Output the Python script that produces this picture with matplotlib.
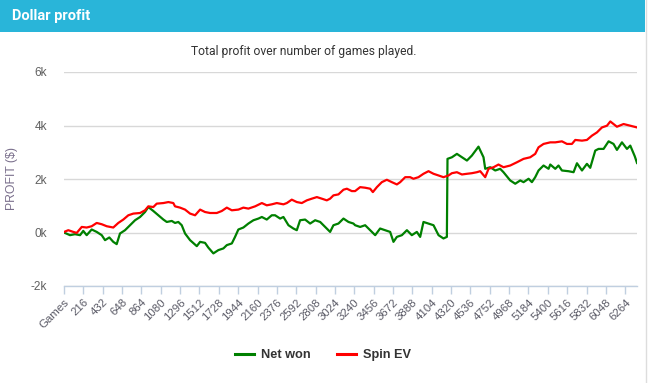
import matplotlib
matplotlib.use("Agg")
import matplotlib.pyplot as plt
from matplotlib.patches import Rectangle
from matplotlib.lines import Line2D

# Values (games played, profit in $)
net_games = [0, 67, 123, 179, 215, 253, 309, 365, 421, 458, 506, 550, 588, 625, 681, 737, 793, 849,
             904, 941, 997, 1053, 1109, 1147, 1203, 1239, 1276, 1314, 1351, 1407, 1482, 1519, 1574,
             1611, 1667, 1723, 1779, 1817, 1873, 1909, 1946, 2002, 2058, 2114, 2170, 2208, 2263,
             2319, 2356, 2412, 2449, 2505, 2560, 2598, 2635, 2691, 2747, 2803, 2859, 2914, 2970,
             3007, 3063, 3119, 3175, 3230, 3249, 3305, 3361, 3417, 3473, 3528, 3584, 3640, 3677,
             3715, 3771, 3827, 3882, 3938, 3975, 4012, 4068, 4124, 4180, 4235, 4273, 4280, 4329,
             4385, 4441, 4497, 4552, 4626, 4682, 4701, 4757, 4813, 4868, 4905, 4980, 5036, 5092,
             5129, 5185, 5222, 5259, 5296, 5352, 5408, 5427, 5483, 5519, 5557, 5631, 5687, 5725,
             5781, 5836, 5873, 5929, 5966, 6022, 6078, 6133, 6171, 6227, 6283, 6320, 6370, 6395]
net_won = [0, -100, -63, -100, 60, -100, 112, 22, -100, -286, -186, -350, -435, -37, 86, 272, 458, 580,
           766, 952, 804, 644, 484, 394, 432, 357, 394, 272, -37, -286, -510, -350, -387,
           -565, -781, -658, -595, -472, -409, -164, 112, 186, 335, 458, 521, 580, 484,
           644, 644, 521, 580, 272, 149, 86, 458, 484, 335, 458, 394, 208, 22,
           272, 335, 521, 394, 335, 272, 208, 272, 86, -100, 149, 86, 22, -350,
           -164, -100, 86, -100, 22, -164, 394, 335, 272, -100, -223, -164, 2753, 2812,
           2939, 2812, 2690, 2876, 3210, 2812, 2381, 2440, 2318, 2381, 2254, 1946, 1823, 1946,
           1882, 2009, 1882, 2068, 2318, 2504, 2381, 2541, 2381, 2504, 2318, 2291, 2254, 2589,
           2318, 2567, 2418, 3062, 3125, 3125, 3408, 3311, 3088, 3370, 3125, 3248, 2850, 2600]

ev_games = [0, 48, 104, 142, 198, 253, 309, 365, 421, 477, 550, 606, 662, 718, 774, 849, 904, 941,
            997, 1035, 1109, 1165, 1220, 1239, 1295, 1351, 1407, 1463, 1519, 1574, 1630, 1705,
            1761, 1817, 1873, 1946, 2002, 2058, 2133, 2208, 2263, 2319, 2375, 2449, 2487, 2542,
            2598, 2654, 2710, 2766, 2822, 2877, 2933, 2970, 3007, 3063, 3119, 3157, 3212, 3249,
            3305, 3361, 3417, 3447, 3492, 3547, 3603, 3659, 3715, 3752, 3808, 3863, 3900, 3956,
            4012, 4068, 4124, 4180, 4235, 4291, 4329, 4385, 4441, 4497, 4552, 4608, 4645, 4701,
            4738, 4794, 4849, 4905, 4980, 5055, 5129, 5203, 5259, 5296, 5352, 5427, 5483, 5557,
            5613, 5669, 5706, 5781, 5836, 5892, 5948, 6004, 6060, 6097, 6171, 6245, 6320, 6395]
spin_ev = [20, 86, 22, -15, 208, 186, 234, 357, 309, 234, 186, 357, 484, 644, 707, 729, 830, 978,
           952, 1079, 1101, 1138, 1101, 978, 930, 856, 707, 644, 856, 766, 729, 729,
           804, 930, 830, 856, 930, 893, 978, 1101, 1016, 1053, 1101, 1053, 1101, 1228,
           1138, 1101, 1202, 1265, 1324, 1265, 1202, 1265, 1388, 1425, 1600, 1637, 1548, 1548,
           1696, 1674, 1637, 1510, 1696, 1882, 1972, 1882, 1797, 1882, 2068, 2068, 2009, 2068,
           2195, 2292, 2195, 2132, 2068, 2132, 2217, 2254, 2169, 2195, 2217, 2254, 2292, 2068,
           2381, 2440, 2541, 2440, 2504, 2626, 2753, 2812, 2939, 3184, 3311, 3370, 3370, 3408,
           3311, 3311, 3460, 3434, 3460, 3620, 3742, 3928, 3992, 4151, 3954, 4055, 3992, 3928]

tick_games = list(range(0, 6265, 216))
tick_labels = ["Games"] + [str(g) for g in tick_games[1:]]
y_ticks = [-2000, 0, 2000, 4000, 6000]
y_labels = ["-2k", "0k", "2k", "4k", "6k"]

W, H = 648, 383
fig = plt.figure(figsize=(W / 100, H / 100), dpi=100)
fig.patch.set_facecolor("white")

# Header bar
fig.patches.append(Rectangle((0, 1 - 32 / H), 645 / W, 32 / H, transform=fig.transFigure,
                             facecolor="#29b5d9", edgecolor="none", zorder=0))
fig.lines.append(Line2D([645.5 / W, 645.5 / W], [0, 1], transform=fig.transFigure,
                        color="#dddddd", lw=1.0))
fig.text(12 / W, 1 - 16 / H, "Dollar profit", color="white", fontsize=10.5, fontweight="bold",
         family="Roboto", va="center", ha="left")
fig.text(304 / W, 1 - 52 / H, "Total profit over number of games played.", color="#333333",
         fontsize=8.7, family="Roboto", va="center", ha="center")

ax = fig.add_axes([64 / W, 1 - 286 / H, 573 / W, 214 / H])
ax.plot(net_games, net_won, color="#008000", lw=1.6, label="Net won", zorder=3)
ax.plot(ev_games, spin_ev, color="#ff0000", lw=1.6, label="Spin EV", zorder=3)

ax.set_xlim(0, 6395)
ax.set_ylim(-2000, 6000)
ax.set_yticks(y_ticks)
ax.set_yticklabels(y_labels)
ax.set_xticks(tick_games)
ax.set_xticklabels(tick_labels, rotation=45, ha="right", rotation_mode="anchor")

for s in ["top", "right", "left"]:
    ax.spines[s].set_visible(False)
ax.spines["bottom"].set_color("#c0cfe0")
ax.spines["bottom"].set_linewidth(1.0)
ax.grid(axis="y", color="#d8d8d8", lw=1.0)
ax.set_axisbelow(True)

ax.tick_params(axis="y", length=0, pad=12, labelsize=8.6, labelcolor="#606060")
ax.tick_params(axis="x", length=6, width=1.0, color="#c0cfe0", pad=2, labelsize=8.2,
               labelcolor="#5a5a66")
for lbl in ax.get_yticklabels() + ax.get_xticklabels():
    lbl.set_family("Liberation Sans")

ax.set_ylabel("PROFIT ($)", color="#7a6f8c", fontsize=8.8, family="Liberation Sans")
ax.yaxis.set_label_coords(-0.08, 0.5)

leg = fig.legend(loc="center", bbox_to_anchor=(323 / W, 1 - 355 / H), ncol=2, frameon=False,
                 handlelength=1.5, columnspacing=2.0, handletextpad=0.6,
                 prop={"family": "Liberation Sans", "weight": "bold", "size": 9.2})
for t in leg.get_texts():
    t.set_color("#333333")
for h in leg.get_lines():
    h.set_linewidth(2.2)

fig.savefig("out.png", dpi=100)
